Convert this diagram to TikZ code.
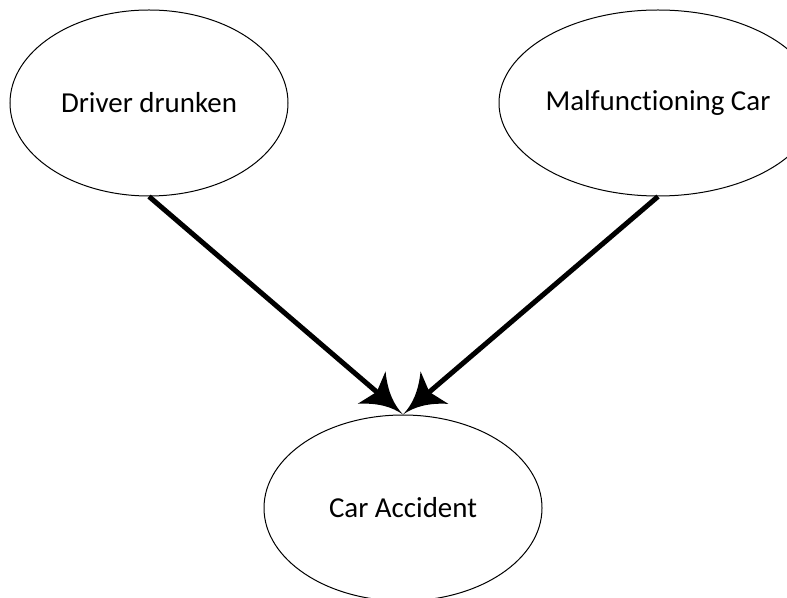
\documentclass[tikz,border=0pt]{standalone}
\usepackage{fontspec}
\setmainfont{Carlito}[Ligatures=NoCommon,RawFeature={-liga;-clig;-calt}]
\usetikzlibrary{shapes.geometric,arrows.meta}
% Filled arrow head with concave flanks and swept-back barbs
\pgfdeclarearrow{
  name=Barbed Stealth,
  setup code={
    \pgfarrowssettipend{0pt}
    \pgfarrowssetlineend{-24pt}
    \pgfarrowssetvisualbackend{-31pt}
    \pgfarrowssetbackend{-31pt}
  },
  drawing code={
    \pgfpathmoveto{\pgfpointorigin}
    \pgfpathcurveto{\pgfpoint{-10pt}{1pt}}{\pgfpoint{-20pt}{5.5pt}}{\pgfpoint{-31pt}{16pt}}
    \pgfpathlineto{\pgfpoint{-26pt}{0pt}}
    \pgfpathlineto{\pgfpoint{-31pt}{-16pt}}
    \pgfpathcurveto{\pgfpoint{-20pt}{-5.5pt}}{\pgfpoint{-10pt}{-1pt}}{\pgfpointorigin}
    \pgfpathclose
    \pgfusepathqfill
  }
}
\begin{document}
\begin{tikzpicture}[x=0.75pt,y=-0.75pt,
  event/.style={ellipse,draw,line width=0.75pt,minimum width=208.5pt,
    minimum height=139.5pt,inner sep=0pt,font=\fontsize{21.7}{26}\selectfont},
  cause/.style={line width=3.75pt,-{Barbed Stealth}}]
\useasboundingbox (0,0) rectangle (787,598);
\begin{scope}
\clip (0,0) rectangle (787,598);
\node[event] (dd) at (149,103) {Driver drunken};
\node[event] (mc) at (658,103) {Malfunctioning Car};
\node[event] (ca) at (403,508) {Car Accident};
\draw[cause] (dd.south) -- (ca.north);
\draw[cause] (mc.south) -- (ca.north);
\end{scope}
\end{tikzpicture}
\end{document}
